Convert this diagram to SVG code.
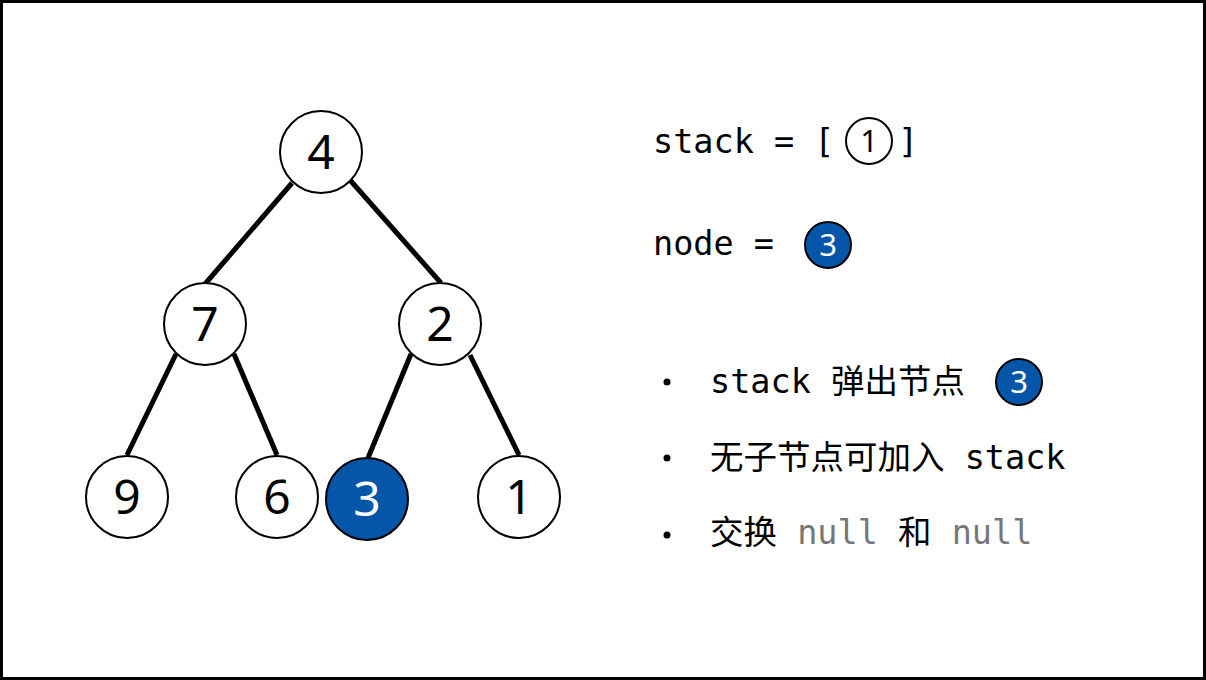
<svg xmlns="http://www.w3.org/2000/svg" width="1206" height="680" viewBox="0 0 1206 680">
<style>
.nd{fill:#fff;stroke:#000;stroke-width:2}
.hl{fill:#0556a8;stroke:#000;stroke-width:2}
.num{font-family:"Noto Sans","Open Sans",sans-serif;font-size:48px;text-anchor:middle;fill:#000}
.numw{fill:#fff}
.sm{font-family:"Noto Sans","Open Sans",sans-serif;font-size:31px;text-anchor:middle}
.mono{font-family:"DejaVu Sans Mono","Noto Sans CJK SC",monospace;font-size:33.5px;fill:#000}
.gray{fill:#777}
.edge{stroke:#000;stroke-width:5;fill:none}
</style>
<rect x="1.5" y="1.5" width="1203" height="677" fill="#fff" stroke="#000" stroke-width="3"/>
<g id="connectors">
<line class="edge" x1="292" y1="183" x2="205" y2="284"/>
<line class="edge" x1="350" y1="180" x2="441" y2="283"/>
<line class="edge" x1="176" y1="354" x2="127" y2="455"/>
<line class="edge" x1="234" y1="354" x2="277" y2="455"/>
<line class="edge" x1="411" y1="354" x2="368" y2="458"/>
<line class="edge" x1="470" y1="355" x2="519" y2="455"/>
</g>
<g id="n4"><circle class="nd" cx="321" cy="152" r="41"/><text class="num" x="321" y="169">4</text></g>
<g id="n7"><circle class="nd" cx="205" cy="324" r="41"/><text class="num" x="205" y="341">7</text></g>
<g id="n2"><circle class="nd" cx="440" cy="324" r="41"/><text class="num" x="440" y="341">2</text></g>
<g id="n9"><circle class="nd" cx="127" cy="497" r="41"/><text class="num" x="127" y="514">9</text></g>
<g id="n6"><circle class="nd" cx="277" cy="497" r="41"/><text class="num" x="277" y="514">6</text></g>
<g id="n3"><circle class="hl" cx="367" cy="499" r="41"/><text class="num numw" x="367" y="516">3</text></g>
<g id="n1"><circle class="nd" cx="519" cy="497" r="41"/><text class="num" x="519" y="514">1</text></g>
<g id="stack">
<text class="mono" x="653" y="153">stack = [</text>
<circle class="nd" cx="869" cy="141" r="23"/><text class="sm" x="869" y="152">1</text>
<text class="mono" x="898" y="153">]</text>
</g>
<g id="node">
<text class="mono" x="653" y="255">node =</text>
<circle class="hl" cx="828" cy="245" r="23"/><text class="sm" x="828" y="256" fill="#fff">3</text>
</g>
<g id="bullets">
<circle cx="667" cy="382" r="3.5" fill="#000"/>
<text class="mono" x="710" y="393">stack 弹出节点</text>
<circle class="hl" cx="1019" cy="382" r="23"/><text class="sm" x="1019" y="393" fill="#fff">3</text>
<circle cx="667" cy="458" r="3.5" fill="#000"/>
<text class="mono" x="710" y="469">无子节点可加入 stack</text>
<circle cx="667" cy="535" r="3.5" fill="#000"/>
<text class="mono" x="710" y="544">交换 <tspan class="gray">null</tspan> 和 <tspan class="gray">null</tspan></text>
</g>
</svg>
